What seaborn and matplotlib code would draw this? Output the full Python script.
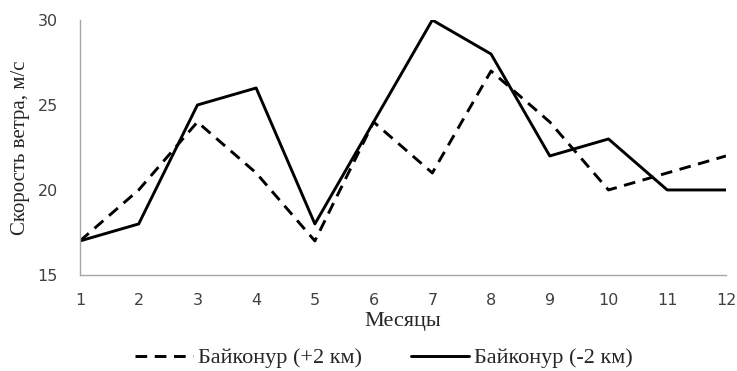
import matplotlib
matplotlib.use("Agg")
import matplotlib.pyplot as plt
from matplotlib.lines import Line2D
import seaborn as sns
import pandas as pd

months = list(range(1, 13))
baikonur_plus2 = [17, 20, 24, 21, 17, 24, 21, 27, 24, 20, 21, 22]
baikonur_minus2 = [17, 18, 25, 26, 18, 24, 30, 28, 22, 23, 20, 20]
series_names = ["Байконур (+2 км)", "Байконур (-2 км)"]
y_ticks = [15, 20, 25, 30]

df = pd.DataFrame({
    "month": months * 2,
    "speed": baikonur_plus2 + baikonur_minus2,
    "series": [series_names[0]] * 12 + [series_names[1]] * 12,
})

sns.set_style("white")
serif = "Liberation Serif"
sans = "DejaVu Sans"
dash = (4, 2.6)

fig = plt.figure(figsize=(7.37, 3.71), dpi=100)
ax = fig.add_axes([0.1085, 0.259, 0.8765, 0.687])

sns.lineplot(data=df, x="month", y="speed", hue="series", style="series",
             palette=["black", "black"], dashes=[dash, ""],
             linewidth=2.1, ax=ax, legend=False)

ax.set_xlim(1, 12)
ax.set_ylim(15, 30)
ax.set_xticks(months)
ax.set_yticks(y_ticks)
for s in ["top", "right"]:
    ax.spines[s].set_visible(False)
for s in ["left", "bottom"]:
    ax.spines[s].set_color("#a6a6a6")
    ax.spines[s].set_linewidth(1.0)
ax.tick_params(axis="both", which="both", direction="out", length=6,
               color="#a6a6a6", width=1.0, labelsize=11.5,
               labelcolor="#404040")
ax.tick_params(axis="x", pad=7)
ax.tick_params(axis="y", pad=10)
for lab in ax.get_xticklabels() + ax.get_yticklabels():
    lab.set_fontfamily(sans)

ax.set_xlabel("Месяцы", fontfamily=serif, fontsize=16, labelpad=3)
ax.set_ylabel("Скорость ветра, м/с", fontfamily=serif, fontsize=15, labelpad=5)

handles = [Line2D([], [], color="black", lw=2.1, linestyle=(0, dash)),
           Line2D([], [], color="black", lw=2.1)]
fig.legend(handles, series_names, loc="center", bbox_to_anchor=(0.521, 0.035),
           ncol=2, frameon=False, prop={"family": serif, "size": 16},
           handlelength=2.6, handletextpad=0.25, columnspacing=2.2,
           borderpad=0, borderaxespad=0)

fig.savefig("out.png", dpi=100)
